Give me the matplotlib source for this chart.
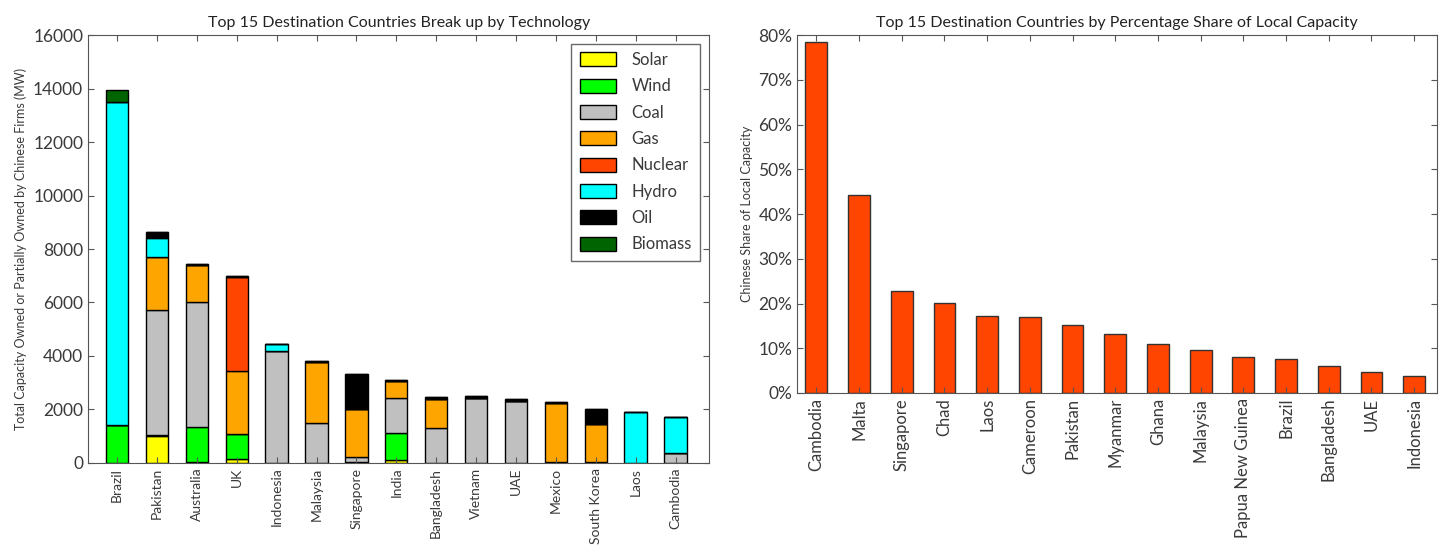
import numpy as np
import matplotlib.pyplot as plt
from matplotlib.ticker import FuncFormatter

countries = ['Brazil', 'Pakistan', 'Australia', 'UK', 'Indonesia', 'Malaysia',
             'Singapore', 'India', 'Bangladesh', 'Vietnam', 'UAE', 'Mexico',
             'South Korea', 'Laos', 'Cambodia']
solar   = [0, 1000, 50, 130, 0, 0, 0, 100, 0, 0, 0, 0, 0, 0, 0]
wind    = [1400, 50, 1300, 950, 0, 0, 30, 1000, 0, 0, 0, 50, 40, 0, 0]
coal    = [0, 4670, 4670, 0, 4200, 1480, 200, 1320, 1320, 2430, 2330, 0, 0, 0, 380]
gas     = [0, 1970, 1370, 2370, 0, 2300, 1800, 660, 1070, 0, 0, 2180, 1430, 0, 0]
nuclear = [0, 0, 0, 3500, 0, 0, 0, 0, 0, 0, 0, 0, 0, 0, 0]
hydro   = [12100, 730, 0, 0, 250, 0, 0, 0, 0, 0, 0, 0, 0, 1900, 1320]
oil     = [0, 230, 60, 50, 0, 30, 1300, 30, 90, 70, 60, 60, 550, 0, 0]
biomass = [450, 0, 0, 0, 0, 0, 0, 0, 0, 0, 0, 0, 0, 0, 0]

tech_names = ['Solar', 'Wind', 'Coal', 'Gas', 'Nuclear', 'Hydro', 'Oil', 'Biomass']
tech_colors = ['#ffff00', '#00ff00', '#c0c0c0', '#ffa500', '#ff4500', '#00ffff',
               '#000000', '#006400']

share_countries = ['Cambodia', 'Malta', 'Singapore', 'Chad', 'Laos', 'Cameroon',
                   'Pakistan', 'Myanmar', 'Ghana', 'Malaysia', 'Papua New Guinea',
                   'Brazil', 'Bangladesh', 'UAE', 'Indonesia']
share = [78.5, 44.3, 22.7, 20.2, 17.2, 17.0, 15.2, 13.1, 10.9, 9.5, 8.1, 7.7,
         6.0, 4.7, 3.9]

plt.rcParams['font.family'] = ['Lato', 'DejaVu Sans']
plt.rcParams['xtick.direction'] = 'in'
plt.rcParams['ytick.direction'] = 'in'
plt.rcParams['xtick.top'] = True
plt.rcParams['ytick.right'] = True
text_col = '#3a3a3a'
spine_col = '#555555'

fig = plt.figure(figsize=(14.52, 5.59), dpi=100)
ax1 = fig.add_axes([0.0606, 0.172, 0.428, 0.765])
ax2 = fig.add_axes([0.549, 0.297, 0.4405, 0.640])

# left: stacked bars
x = np.arange(len(countries))
bottom = np.zeros(len(countries))
series = [solar, wind, coal, gas, nuclear, hydro, oil, biomass]
for name, col, vals in zip(tech_names, tech_colors, series):
    ax1.bar(x, vals, 0.56, bottom=bottom, color=col, edgecolor='black',
            linewidth=1.0, label=name)
    bottom += np.array(vals)

ax1.set_xlim(-0.73, 14.85)
ax1.set_ylim(0, 16000)
ax1.set_xticks(x)
ax1.set_xticklabels(countries, rotation=90, fontsize=10, color=text_col)
ax1.tick_params(axis='y', labelsize=12.5, labelcolor=text_col)
ax1.set_ylabel('Total Capacity Owned or Partially Owned by Chinese Firms (MW)',
               fontsize=9, color=text_col)
ax1.set_title('Top 15 Destination Countries Break up by Technology',
              fontsize=11.5, color='#222222', pad=6)
leg = ax1.legend(loc='upper right', fontsize=12, fancybox=False,
                 edgecolor='#444444', handlelength=2.2, handleheight=0.9,
                 labelspacing=0.62, borderpad=0.5, handletextpad=0.9,
                 borderaxespad=0, bbox_to_anchor=(0.985, 0.98))
for t in leg.get_texts():
    t.set_color(text_col)

# right: share bars
x2 = np.arange(len(share_countries))
ax2.bar(x2, share, 0.51, color='#ff4500', edgecolor='#333333', linewidth=1.0)
ax2.set_xlim(-0.45, 14.53)
ax2.set_ylim(0, 80)
ax2.set_yticks(range(0, 81, 10))
ax2.yaxis.set_major_formatter(FuncFormatter(lambda v, p: '%d%%' % v))
ax2.set_xticks(x2)
ax2.set_xticklabels(share_countries, rotation=90, fontsize=12, color=text_col)
ax2.tick_params(axis='y', labelsize=12.5, labelcolor=text_col)
ax2.set_ylabel('Chinese Share of Local Capacity', fontsize=9, color=text_col)
ax2.set_title('Top 15 Destination Countries by Percentage Share of Local Capacity',
              fontsize=11.5, color='#222222', pad=6)

for ax in (ax1, ax2):
    for s in ax.spines.values():
        s.set_color(spine_col)
    ax.tick_params(color=spine_col, length=4)

plt.savefig('out.png', dpi=100)
